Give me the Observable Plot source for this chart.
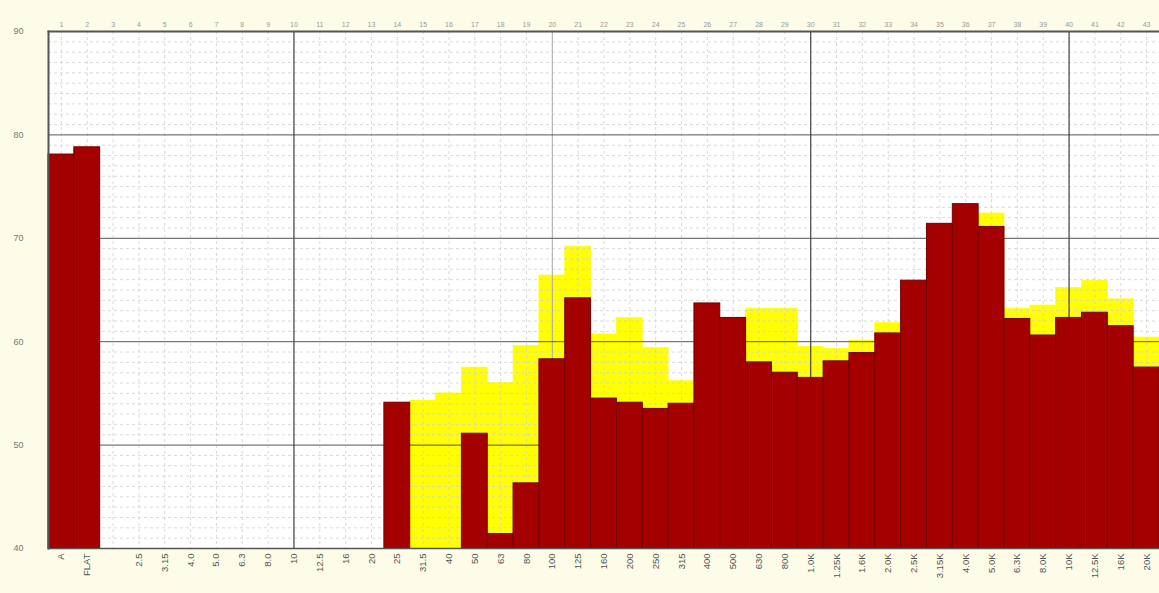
<!DOCTYPE html>
<html><head><meta charset="utf-8">
<script src="https://cdn.jsdelivr.net/npm/d3@7"></script>
<script src="https://cdn.jsdelivr.net/npm/@observablehq/plot@0.6"></script>
<style>html,body{margin:0;padding:0;background:#fcfce8;overflow:hidden}</style>
</head><body><div id="chart"></div>
<script>
const bandLabels = ["A","FLAT","","2.5","3.15","4.0","5.0","6.3","8.0","10","12.5","16","20","25","31.5","40","50","63","80","100","125","160","200","250","315","400","500","630","800","1.0K","1.25K","1.6K","2.0K","2.5K","3.15K","4.0K","5.0K","6.3K","8.0K","10K","12.5K","16K","20K"];
const bandNumbers = [1,2,3,4,5,6,7,8,9,10,11,12,13,14,15,16,17,18,19,20,21,22,23,24,25,26,27,28,29,30,31,32,33,34,35,36,37,38,39,40,41,42,43];
const liveLevel = [78.1,78.8,null,null,null,null,null,null,null,null,null,null,null,54.1,null,null,51.1,41.4,46.3,58.3,64.2,54.5,54.1,53.5,54.0,63.7,62.3,58.0,57.0,56.5,58.1,58.9,60.8,65.9,71.4,73.3,71.1,62.2,60.6,62.3,62.8,61.5,57.5];
const peakLevel = [null,null,null,null,null,null,null,null,null,null,null,null,null,null,54.3,55.0,57.5,56.0,59.6,66.4,69.2,60.7,62.3,59.4,56.2,null,null,63.2,63.2,59.5,59.3,60.1,61.8,null,null,null,72.4,63.2,63.5,65.2,65.9,64.1,60.4];
const yTicks = [40,50,60,70,80,90];
const yMinor = [41,42,43,44,45,46,47,48,49,51,52,53,54,55,56,57,58,59,61,62,63,64,65,66,67,68,69,71,72,73,74,75,76,77,78,79,81,82,83,84,85,86,87,88,89];
const xMajor = [10,30,40];
const xMid = [20];

const data = bandLabels.map((label, k) => ({band: bandNumbers[k], label, live: liveLevel[k], peak: peakLevel[k]}));
const base = yTicks[0];

const chart = Plot.plot({
  width: 1159, height: 593,
  marginLeft: 48, marginRight: 0, marginTop: 31, marginBottom: 45,
  style: {background: "transparent", fontFamily: "'Liberation Sans', Arial, sans-serif"},
  x: {type: "band", domain: bandNumbers, padding: 0, axis: null, label: null},
  y: {domain: [40, 90], axis: null, label: null},
  marks: [
    Plot.frame({fill: "white", stroke: null}),
    Plot.barY(data.filter(d => d.peak != null), {x: "band", y1: base, y2: "peak", fill: "#ffff00", stroke: "#ffff00", strokeWidth: 0.6}),
    Plot.gridY(yMinor, {stroke: "#cfcfcf", strokeOpacity: 1, strokeDasharray: "3,3", strokeWidth: 0.8}),
    Plot.gridX(bandNumbers, {stroke: "#cfcfcf", strokeOpacity: 1, strokeDasharray: "3,3", strokeWidth: 0.8}),
    Plot.gridX(xMid, {stroke: "#aaa", strokeOpacity: 1, strokeWidth: 1}),
    Plot.gridY(yTicks, {stroke: "#555", strokeOpacity: 1, strokeWidth: 1}),
    Plot.gridX(xMajor, {stroke: "#444", strokeOpacity: 1, strokeWidth: 1.2}),
    Plot.barY(data.filter(d => d.live != null), {x: "band", y1: base, y2: "live", fill: "#a50000", stroke: "#700000", strokeWidth: 1}),
    Plot.frame({anchor: "top", stroke: "#555", strokeWidth: 2}),
    Plot.frame({anchor: "left", stroke: "#555", strokeWidth: 2}),
    Plot.frame({anchor: "bottom", stroke: "#555", strokeWidth: 1.5}),
    Plot.axisX({anchor: "top", ticks: bandNumbers, tickFormat: d => String(d), tickSize: 0, tickPadding: 5, fontSize: 7, color: "#999", label: null}),
    Plot.axisX({anchor: "bottom", ticks: bandNumbers, tickFormat: d => bandLabels[d - 1], tickRotate: -90, tickSize: 0, tickPadding: 5, fontSize: 9.5, color: "#555", label: null}),
    Plot.axisY({ticks: yTicks, tickSize: 0, tickPadding: 25, fontSize: 9, color: "#777", label: null})
  ]
});
document.getElementById("chart").appendChild(chart);
</script>
</body></html>
